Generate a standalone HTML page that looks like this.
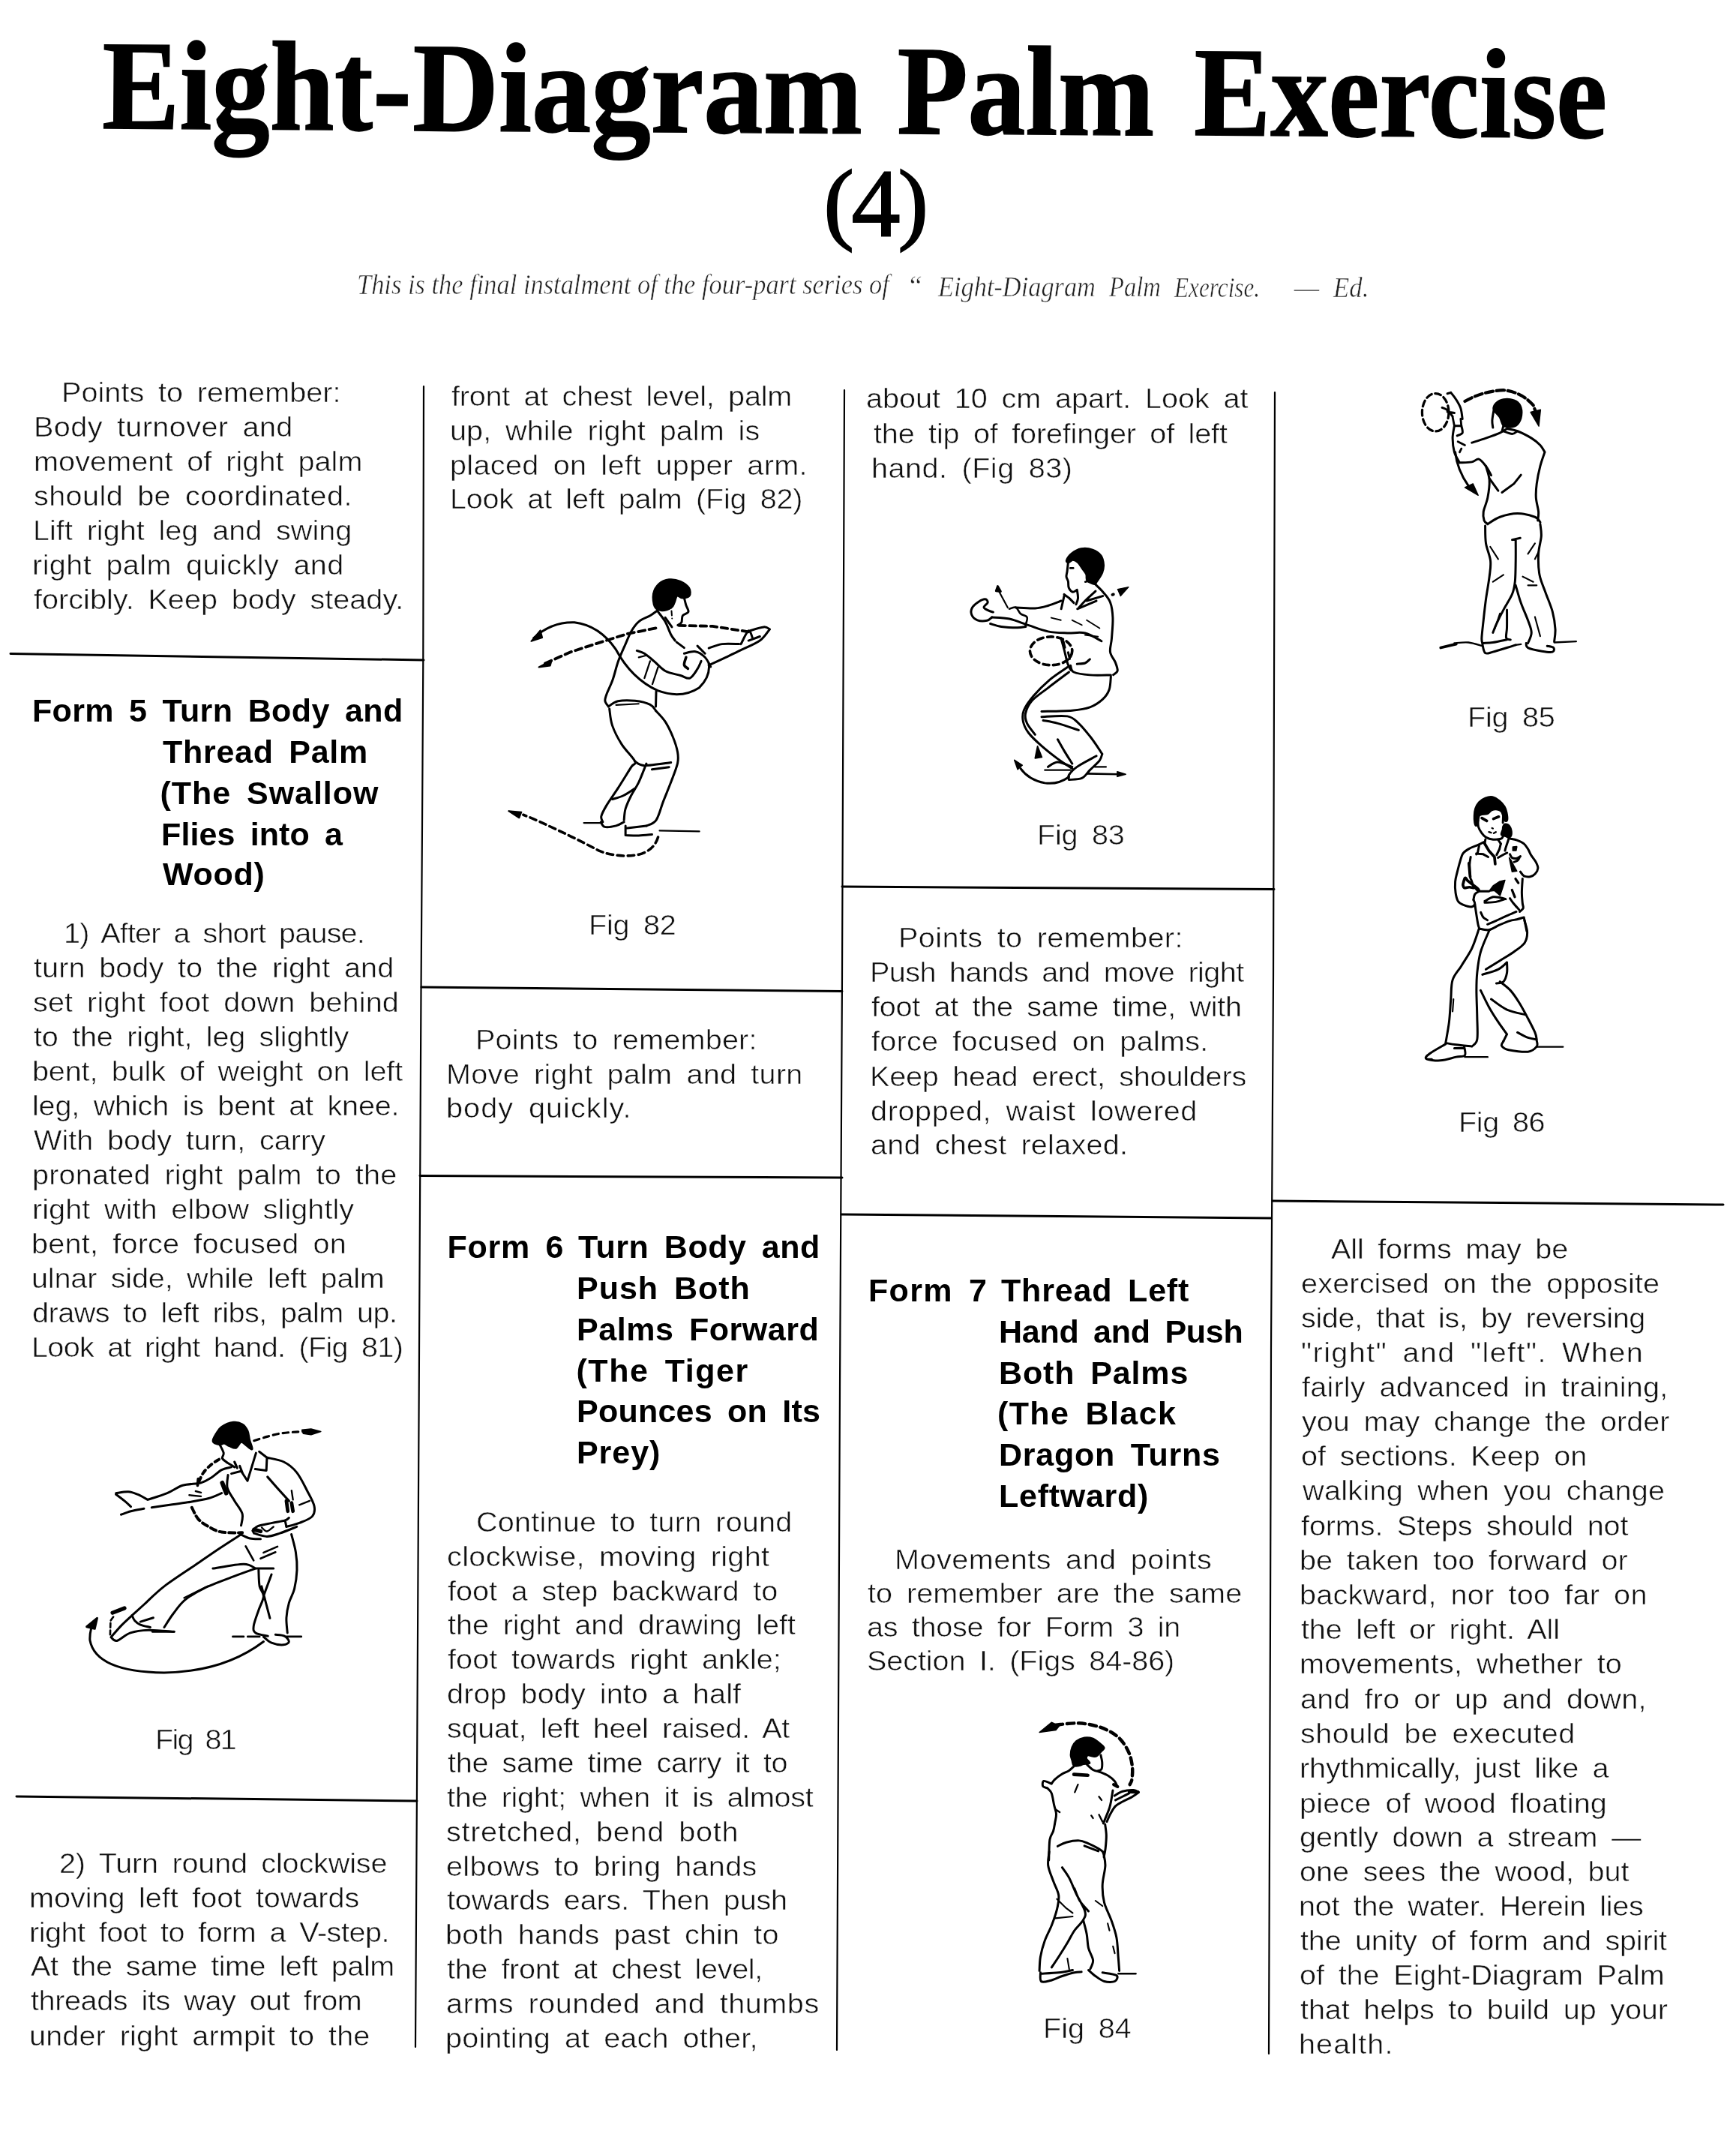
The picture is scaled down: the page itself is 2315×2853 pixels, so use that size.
<!DOCTYPE html>
<html lang="en"><head><meta charset="utf-8"><title>Eight-Diagram Palm Exercise (4)</title>
<style>
html,body{margin:0;padding:0;background:#fff;}
body{width:2315px;height:2853px;position:relative;overflow:hidden;color:#000;}
.pg{position:absolute;left:0;top:0;width:2315px;height:2853px;overflow:hidden;background:#fff;filter:grayscale(1);}
.b,.h,.t,.n,.s{position:absolute;white-space:nowrap;margin:0;padding:0;}
.b{font-family:"Liberation Sans",sans-serif;font-size:36px;line-height:46px;color:#111;word-spacing:7px;-webkit-text-stroke:0.55px #fff;transform-origin:0 0;transform:scaleX(1.10);}
.h{font-family:"Liberation Sans",sans-serif;font-weight:bold;font-size:43px;line-height:54px;color:#000;word-spacing:8px;}
.t{font-family:"Liberation Serif",serif;font-weight:bold;font-size:170px;line-height:180px;color:#000;transform-origin:0 0;-webkit-text-stroke:1.6px #000;}
.n{font-family:"Liberation Serif",serif;font-size:130px;line-height:150px;color:#000;-webkit-text-stroke:2px #000;}
.s{font-family:"Liberation Serif",serif;font-style:italic;font-size:38px;line-height:44px;color:#222;transform-origin:0 0;-webkit-text-stroke:0.6px #fff;}
svg{position:absolute;left:0;top:0;}
</style></head><body><div class="pg">
<svg width="2315" height="2853" viewBox="0 0 2315 2853" fill="none" stroke="#000" stroke-linecap="round" stroke-linejoin="round">
<line x1="14" y1="871.5" x2="565" y2="880" stroke-width="3"/>
<line x1="22" y1="2395" x2="556" y2="2401" stroke-width="3"/>
<line x1="562" y1="1316" x2="1123" y2="1321.5" stroke-width="3"/>
<line x1="560" y1="1567.5" x2="1123" y2="1570" stroke-width="3"/>
<line x1="1123" y1="1182" x2="1699" y2="1185.5" stroke-width="3"/>
<line x1="1122" y1="1619" x2="1695" y2="1624" stroke-width="3"/>
<line x1="1697" y1="1601" x2="2298" y2="1606" stroke-width="3"/>
<polyline points="565,515 564.3,880 563,1100 561.5,1320 559,1800 556,2380 554,2729" stroke-width="2.2"/>
<polyline points="1126,520 1123,1300 1120,1850 1116,2733" stroke-width="2.2"/>
<polyline points="1700,523 1698,1300 1695,1800 1694,2150 1692,2738" stroke-width="2.2"/>
<g transform="translate(60,1860) scale(0.26497)" stroke-width="11.32">
<path d="M846,232 C843.3,222.8 855.8,205.0 863,193 C870.2,181.0 874.8,169.3 889,160 C903.2,150.7 930.7,139.2 948,137 C965.3,134.8 981.2,139.8 993,147 C1004.8,154.2 1013.0,166.8 1019,180 C1025.0,193.2 1025.2,210.8 1029,226 C1032.8,241.2 1044.7,266.7 1042,271 C1039.3,275.3 1022.2,258.0 1013,252 C1003.8,246.0 995.7,232.8 987,235 C978.3,237.2 970.8,261.7 961,265 C951.2,268.3 937.8,258.8 928,255 C918.2,251.2 910.2,243.2 902,242 C893.8,240.8 888.3,249.7 879,248 C869.7,246.3 848.7,241.2 846,232Z" fill="#000"/>
<path d="M879,248 C882.3,255.2 896.8,279.5 899,291 C901.2,302.5 889.8,309.5 892,317 C894.2,324.5 906.0,331.2 912,336 C918.0,340.8 921.0,341.7 928,346 C935.0,350.3 949.7,359.3 954,362 M980,356 L993,389"/>
<path d="M954,336 L967,366" stroke-width="12"/>
<path d="M1062,291 L1019,431 L987,382 L938,395 M1078,284 L1117,314 L1114,379 L1058,372"/>
<path d="M1117,314 C1131.2,317.7 1177.0,323.5 1202,336 C1227.0,348.5 1247.5,365.0 1267,389 C1286.5,413.0 1304.3,451.8 1319,480 C1333.7,508.2 1350.7,536.3 1355,558 C1359.3,579.7 1357.5,595.8 1345,610 C1332.5,624.2 1301.7,634.3 1280,643 C1258.3,651.7 1225.8,658.8 1215,662"/>
<path d="M1120,411 C1128.2,420.3 1151.0,446.8 1169,467 C1187.0,487.2 1218.2,521.2 1228,532" stroke-width="12"/>
<path d="M1215,532 L1222,584 M1241,542 L1248,584" stroke-width="18"/>
<path d="M1241,480 L1248,526 M1280,552 L1332,532" stroke-width="9"/>
<path d="M1045,682 C1049.3,678.2 1054.7,665.5 1071,659 C1087.3,652.5 1120.2,647.8 1143,643 C1165.8,638.2 1193.8,634.3 1208,630 C1222.2,625.7 1224.7,619.2 1228,617 M1052,695 C1062.8,697.7 1095.3,711.0 1117,711 C1138.7,711.0 1157.0,703.2 1182,695 C1207.0,686.8 1252.8,667.5 1267,662 M1045,682 L1052,695 M1208,630 L1215,662"/>
<path d="M1052,676 L1085,685" stroke-width="20"/>
<path d="M1091,666 C1095.3,669.2 1107.2,685.7 1117,685 C1126.8,684.3 1144.5,665.8 1150,662" stroke-width="9"/>
<path d="M921,402 C920.5,412.8 912.5,445.3 918,467 C923.5,488.7 941.5,510.3 954,532 C966.5,553.7 987.5,576.3 993,597 C998.5,617.7 988.0,646.2 987,656"/>
<path d="M892,441 L912,493" stroke-width="22"/>
<path d="M938,362 C929.8,364.3 905.8,367.2 889,376 C872.2,384.8 854.3,404.2 837,415 C819.7,425.8 809.0,434.5 785,441 C761.0,447.5 721.3,445.3 693,454 C664.7,462.7 644.3,481.0 615,493 C585.7,505.0 533.3,520.5 517,526 M517,526 C508.3,521.5 481.3,505.7 465,499 C448.7,492.3 437.0,487.0 419,486 C401.0,485.0 367.3,491.8 357,493 M357,499 C364.2,504.5 387.5,521.7 400,532 C412.5,542.3 426.7,556.2 432,561 M383,601 C391.2,598.2 412.8,589.0 432,584 C451.2,579.0 487.0,573.2 498,571 M537,565 C552.2,562.8 597.7,556.3 628,552 C658.3,547.7 686.3,544.5 719,539 C751.7,533.5 795.7,526.7 824,519 C852.3,511.3 878.2,497.3 889,493"/>
<path d="M726,503 L785,509 M758,483 L785,490" stroke-width="9"/>
<path d="M771,421 L768,454" stroke-width="14"/>
<path d="M876,323 C869.5,327.3 850.0,338.0 837,349 C824.0,360.0 808.3,374.8 798,389 C787.7,403.2 778.8,426.5 775,434" stroke-width="15" stroke-dasharray="24 20"/>
<path d="M739,565 C744.3,574.7 756.8,606.8 771,623 C785.2,639.2 804.3,651.0 824,662 C843.7,673.0 860.8,684.0 889,689 C917.2,694.0 975.7,691.5 993,692" stroke-width="15" stroke-dasharray="30 18"/>
<path d="M1052,229 C1062.8,225.7 1095.3,215.0 1117,209 C1138.7,203.0 1160.2,196.8 1182,193 C1203.8,189.2 1228.3,187.7 1248,186 C1267.7,184.3 1291.3,183.5 1300,183" stroke-width="12" stroke-dasharray="28 22"/>
<path d="M1293,175 L1339,170 L1388,183 L1339,199 L1300,193Z" stroke-width="6" fill="#000"/>
<path d="M980,698 C988.7,701.8 1014.5,716.7 1032,721 C1049.5,725.3 1076.2,723.5 1085,724 M1240,700 C1243.7,715.0 1257.3,760.0 1262,790 C1266.7,820.0 1269.2,849.2 1268,880 C1266.8,910.8 1261.7,947.5 1255,975 C1248.3,1002.5 1234.7,1020.8 1228,1045 C1221.3,1069.2 1216.3,1094.8 1215,1120 C1213.7,1145.2 1219.2,1183.3 1220,1196"/>
<path d="M985,702 C967.5,713.3 917.5,745.0 880,770 C842.5,795.0 806.7,820.0 760,852 C713.3,884.0 643.3,928.7 600,962 C556.7,995.3 527.0,1027.7 500,1052 C473.0,1076.3 448.3,1098.7 438,1108 M438,1108 C440.3,1112.5 445.0,1127.2 452,1135 C459.0,1142.8 467.0,1149.5 480,1155 C493.0,1160.5 521.7,1165.8 530,1168"/>
<path d="M845,872 C870.8,868.3 964.2,850.0 1000,850 C1035.8,850.0 1050.0,868.3 1060,872 M1060,872 L1150,872 M1060,872 C1041.7,878.7 993.3,895.3 950,912 C906.7,928.7 840.8,952.3 800,972 C759.2,991.7 730.8,1008.7 705,1030 C679.2,1051.3 662.5,1077.0 645,1100 C627.5,1123.0 607.5,1156.7 600,1168"/>
<path d="M820,960 L700,1020" stroke-width="8"/>
<path d="M438,1108 C429.2,1116.3 402.7,1139.7 385,1158 C367.3,1176.3 340.8,1208.0 332,1218 M332,1218 C337.0,1221.0 345.7,1239.7 362,1236 C378.3,1232.3 403.7,1205.0 430,1196 C456.3,1187.0 483.3,1183.0 520,1182 C556.7,1181.0 628.3,1188.7 650,1190 M480,1140 L545,1120"/>
<path d="M340,1095 L400,1072" stroke-width="20"/>
<path d="M328,1205 L330,1135 L348,1110" stroke-width="10" stroke-dasharray="22 14"/>
<path d="M1075,880 C1075.8,893.7 1075.8,940.0 1080,962 C1084.2,984.0 1100.8,992.0 1100,1012 C1099.2,1032.0 1083.3,1057.0 1075,1082 C1066.7,1107.0 1052.5,1143.0 1050,1162 C1047.5,1181.0 1048.0,1187.7 1060,1196 C1072.0,1204.3 1111.7,1209.3 1122,1212 M1090,962 L1132,1122 M1140,902 L1100,1010"/>
<path d="M1010,760 L1050,832 M1100,792 L1170,762 M1085,822 L1160,790" stroke-width="10"/>
<path d="M1100,1216 C1106.7,1221.0 1123.3,1239.3 1140,1246 C1156.7,1252.7 1185.3,1257.0 1200,1256 C1214.7,1255.0 1227.2,1247.3 1228,1240 C1228.8,1232.7 1216.3,1217.8 1205,1212 C1193.7,1206.2 1167.5,1206.2 1160,1205"/>
<path d="M540,1190 L650,1190 M945,1215 L1000,1215 M1020,1215 L1080,1215 M1215,1215 L1290,1215" stroke-width="10"/>
<path d="M1100,1240 Q900,1392 600,1396 Q255,1392 226,1232 Q224,1180 248,1140"/>
<path d="M210,1165 L262,1122 L250,1175 Z" fill="#000"/>
</g>
<g transform="translate(660,740) scale(0.25237)" stroke-width="11.89">
<path d="M845,272 C837.7,257.5 834.2,225.0 838,205 C841.8,185.0 854.3,164.5 868,152 C881.7,139.5 901.3,132.0 920,130 C938.7,128.0 962.5,132.5 980,140 C997.5,147.5 1017.2,162.5 1025,175 C1032.8,187.5 1032.8,206.5 1027,215 C1021.2,223.5 1000.8,226.0 990,226 C979.2,226.0 969.0,211.0 962,215 C955.0,219.0 953.0,239.8 948,250 C943.0,260.2 943.0,269.0 932,276 C921.0,283.0 896.5,292.7 882,292 C867.5,291.3 852.3,286.5 845,272Z" fill="#000"/>
<path d="M1000,226 C1001.7,232.5 1006.3,252.7 1010,265 C1013.7,277.3 1025.0,290.8 1022,300 C1019.0,309.2 998.0,310.8 992,320 C986.0,329.2 990.3,346.7 986,355 C981.7,363.3 969.3,367.5 966,370"/>
<path d="M930,255 L936,335" stroke-width="8" stroke-dasharray="24 16"/>
<path d="M860,292 C853.3,296.7 836.3,310.3 820,320 C803.7,329.7 778.3,336.7 762,350 C745.7,363.3 734.0,380.0 722,400 C710.0,420.0 701.7,443.3 690,470 C678.3,496.7 663.3,528.3 652,560 C640.7,591.7 632.0,631.7 622,660 C612.0,688.3 598.7,711.7 592,730 C585.3,748.3 580.7,758.3 582,770 C583.3,781.7 597.0,795.0 600,800"/>
<path d="M862,300 C868.3,308.7 888.7,332.0 900,352 C911.3,372.0 921.3,403.3 930,420 C938.7,436.7 948.3,446.7 952,452" stroke-width="12"/>
<path d="M900,330 L935,380"/>
<path d="M972,372 L1150,376 L1345,406" stroke-width="15" stroke-dasharray="34 22"/>
<path d="M850,386 L700,416 L560,460 L400,512 L262,574" stroke-width="15" stroke-dasharray="36 22"/>
<path d="M232,592 L300,556 L292,584 Z" stroke-width="8" fill="#000"/>
<path d="M205,438 Q300,352 420,356 Q552,372 640,500 Q722,652 860,716 Q985,762 1080,700 Q1140,640 1130,572"/>
<path d="M192,455 L240,398 L250,436 Z" stroke-width="8" fill="#000"/>
<path d="M1130,582 C1145.0,575.0 1191.7,553.3 1220,540 C1248.3,526.7 1270.0,516.7 1300,502 C1330.0,487.3 1374.7,470.3 1400,452 C1425.3,433.7 1443.3,402.0 1452,392 M1452,392 C1446.7,390.0 1438.7,378.3 1420,380 C1401.3,381.7 1353.3,398.3 1340,402 M1130,492 C1141.7,488.3 1173.3,473.7 1200,470 C1226.7,466.3 1275.0,470.0 1290,470 M1300,470 C1306.7,458.3 1329.7,405.0 1340,400 C1350.3,395.0 1358.3,433.3 1362,440 M1340,452 L1400,430"/>
<path d="M750,505 C756.7,507.5 775.0,510.8 790,520 C805.0,529.2 821.7,544.7 840,560 C858.3,575.3 876.7,599.3 900,612 C923.3,624.7 958.3,629.7 980,636 C1001.7,642.3 1015.0,655.7 1030,650 C1045.0,644.3 1060.0,617.0 1070,602 C1080.0,587.0 1086.7,567.0 1090,560 M1000,520 C1010.0,518.3 1041.7,506.7 1060,510 C1078.3,513.3 1096.7,526.7 1110,540 C1123.3,553.3 1135.0,581.7 1140,590"/>
<path d="M820,560 L790,650 M862,592 L832,682 M760,540 L800,530" stroke-width="9"/>
<path d="M1010,540 C1008.3,546.7 998.3,570.0 1000,580 C1001.7,590.0 1016.7,596.7 1020,600" stroke-width="14"/>
<path d="M960,460 L1000,490 M1070,480 L1110,520" stroke-width="12"/>
<path d="M600,800 C608.3,795.3 626.7,777.0 650,772 C673.3,767.0 711.7,767.0 740,770 C768.3,773.0 801.7,781.3 820,790 C838.3,798.7 845.0,816.7 850,822 M852,720 L850,800"/>
<path d="M640,792 L760,786" stroke-width="8"/>
<path d="M605,812 C607.5,826.7 609.2,868.7 620,900 C630.8,931.3 650.0,968.3 670,1000 C690.0,1031.7 731.7,1070.0 740,1090 C748.3,1110.0 735.0,1096.3 720,1120 C705.0,1143.7 671.7,1198.3 650,1232 C628.3,1265.7 604.7,1297.3 590,1322 C575.3,1346.7 565.3,1365.3 562,1380 C558.7,1394.7 568.7,1405.0 570,1410"/>
<path d="M850,822 C858.3,831.7 885.0,857.0 900,880 C915.0,903.0 929.2,933.3 940,960 C950.8,986.7 960.8,1016.7 965,1040 C969.2,1063.3 970.8,1073.3 965,1100 C959.2,1126.7 942.5,1166.7 930,1200 C917.5,1233.3 903.0,1266.7 890,1300 C877.0,1333.3 866.7,1378.3 852,1400 C837.3,1421.7 810.3,1425.0 802,1430"/>
<path d="M740,1090 C748.3,1093.7 758.3,1111.0 790,1112 C821.7,1113.0 906.7,1098.7 930,1096 M800,1102 C793.3,1118.3 773.3,1172.0 760,1200 C746.7,1228.0 731.7,1246.7 720,1270 C708.3,1293.3 696.3,1318.3 690,1340 C683.7,1361.7 683.3,1390.0 682,1400 M620,1290 C630.0,1286.7 660.0,1279.7 680,1270 C700.0,1260.3 730.0,1238.3 740,1232 M830,1132 L920,1120"/>
<path d="M560,1410 C563.3,1414.3 566.7,1432.7 580,1436 C593.3,1439.3 623.0,1434.3 640,1430 C657.0,1425.7 675.0,1413.3 682,1410 M690,1430 L690,1480 M690,1480 C701.7,1480.3 736.7,1482.7 760,1482 C783.3,1481.3 818.3,1477.0 830,1476 M700,1442 L800,1430"/>
<path d="M470,1415 L560,1415 M870,1456 L1080,1460" stroke-width="9"/>
<path d="M862,1490 Q842,1560 760,1582 Q650,1602 550,1562 Q400,1482 200,1392 L150,1372" stroke-width="14" stroke-dasharray="34 22"/>
<path d="M72,1352 L140,1358 L128,1388 Z" stroke-width="8" fill="#000"/>
</g>
<g transform="translate(1260,700) scale(0.21492)" stroke-width="13.96">
<path d="M756,219 C759.2,210.0 773.0,188.8 788,177 C803.0,165.2 824.7,151.8 846,148 C867.3,144.2 895.7,147.0 916,154 C936.3,161.0 956.7,174.5 968,190 C979.3,205.5 983.0,228.8 984,247 C985.0,265.2 981.0,281.8 974,299 C967.0,316.2 949.5,339.0 942,350 C934.5,361.0 938.7,366.0 929,365 C919.3,364.0 892.5,354.0 884,344 C875.5,334.0 883.3,317.8 878,305 C872.7,292.2 860.7,279.3 852,267 C843.3,254.7 835.7,239.7 826,231 C816.3,222.3 803.5,215.0 794,215 C784.5,215.0 775.3,230.3 769,231 C762.7,231.7 752.8,228.0 756,219Z" fill="#000"/>
<path d="M765,231 C764.0,240.2 760.8,271.2 759,286 C757.2,300.8 753.0,309.3 754,320 C755.0,330.7 762.5,338.5 765,350 C767.5,361.5 764.2,378.2 769,389 C773.8,399.8 785.5,412.8 794,415 C802.5,417.2 815.7,404.2 820,402 M820,402 C821.0,410.5 827.0,438.0 826,453 C825.0,468.0 816.0,485.5 814,492"/>
<path d="M778,267 L797,267 M871,352 L897,345" stroke-width="12"/>
<path d="M929,363 C937.7,371.7 964.8,395.7 981,415 C997.2,434.3 1015.8,452.2 1026,479 C1036.2,505.8 1040.5,538.5 1042,576 C1043.5,613.5 1037.7,668.7 1035,704 C1032.3,739.3 1022.2,763.3 1026,788 C1029.8,812.7 1050.5,832.7 1058,852 C1065.5,871.3 1073.2,891.2 1071,904 C1068.8,916.8 1049.3,924.8 1045,929"/>
<path d="M935,410 C924.2,420.0 887.2,453.0 870,470 C852.8,487.0 838.3,505.0 832,512 M880,470 L980,440"/>
<path d="M740,430 L770,452 L800,482 M742,432 L722,520" stroke-width="14"/>
<path d="M440,512 C460.0,512.7 526.7,518.0 560,516 C593.3,514.0 613.0,507.7 640,500 C667.0,492.3 708.3,475.0 722,470 M822,520 L940,470"/>
<path d="M292,572 C310.0,573.7 362.0,573.7 400,582 C438.0,590.3 480.0,609.0 520,622 C560.0,635.0 600.0,652.0 640,660 C680.0,668.0 721.7,668.3 760,670 C798.3,671.7 834.7,661.7 870,670 C905.3,678.3 955.0,711.7 972,720 M282,612 C293.3,615.0 322.0,626.0 350,630 C378.0,634.0 424.7,636.0 450,636 C475.3,636.0 493.3,631.0 502,630"/>
<path d="M660,575 L720,590 M790,590 L850,620 M880,590 L960,640 M870,682 L950,692" stroke-width="9"/>
<path d="M292,572 C287.0,575.3 277.0,589.0 262,592 C247.0,595.0 218.0,596.0 202,590 C186.0,584.0 171.3,569.0 166,556 C160.7,543.0 162.7,525.3 170,512 C177.3,498.7 196.7,484.7 210,476 C223.3,467.3 240.7,459.3 250,460 C259.3,460.7 267.3,471.7 266,480 C264.7,488.3 241.3,501.7 242,510 C242.7,518.3 260.3,525.0 270,530 C279.7,535.0 295.0,538.3 300,540"/>
<path d="M400,520 C406.7,518.3 428.3,505.0 440,510 C451.7,515.0 458.3,539.7 470,550 C481.7,560.3 505.0,560.0 510,572 C515.0,584.0 501.7,613.7 500,622" stroke-width="12"/>
<path d="M336,412 L390,512" stroke-width="10"/>
<path d="M318,408 L328,380 L346,412 Z" stroke-width="14" fill="#000"/>
<path d="M1040,432 L1046,430" stroke-width="18"/>
<path d="M1072,398 L1140,384 L1090,440 Z" stroke-width="6" fill="#000"/>
<ellipse cx="659" cy="781" rx="131" ry="88" stroke-width="17" stroke-dasharray="36 26"/>
<path d="M720,700 C723.3,712.0 733.0,745.3 740,772 C747.0,798.7 755.0,838.7 762,860 C769.0,881.3 778.7,893.3 782,900 M780,872 C783.3,878.7 780.0,902.3 800,912 C820.0,921.7 861.7,927.0 900,930 C938.3,933.0 1008.3,930.0 1030,930 M820,862 C828.3,861.0 856.7,861.0 870,856 C883.3,851.0 895.0,836.0 900,832"/>
<path d="M735,720 L745,760 M765,790 L775,830" stroke-width="14"/>
<path d="M760,882 C741.7,895.0 685.0,930.3 650,960 C615.0,989.7 576.7,1028.3 550,1060 C523.3,1091.7 500.7,1123.3 490,1150 C479.3,1176.7 481.0,1196.7 486,1220 C491.0,1243.3 501.0,1265.0 520,1290 C539.0,1315.0 570.0,1343.3 600,1370 C630.0,1396.7 668.3,1426.7 700,1450 C731.7,1473.3 775.0,1500.0 790,1510"/>
<path d="M770,912 C748.3,928.3 678.3,980.3 640,1010 C601.7,1039.7 563.3,1063.3 540,1090 C516.7,1116.7 505.0,1146.7 500,1170 C495.0,1193.3 500.0,1208.3 510,1230 C520.0,1251.7 551.7,1288.3 560,1300"/>
<path d="M1030,940 C1028.3,953.3 1028.3,996.7 1020,1020 C1011.7,1043.3 1000.0,1061.7 980,1080 C960.0,1098.3 931.7,1118.3 900,1130 C868.3,1141.7 840.0,1145.7 790,1150 C740.0,1154.3 631.7,1155.0 600,1156 M600,1190 C626.7,1189.3 721.7,1179.3 760,1186 C798.3,1192.7 806.7,1209.3 830,1230 C853.3,1250.7 880.0,1285.0 900,1310 C920.0,1335.0 937.3,1361.7 950,1380 C962.7,1398.3 971.7,1413.3 976,1420 M610,1212 C625.0,1215.0 663.3,1220.0 700,1230 C736.7,1240.0 808.3,1265.0 830,1272 M700,1330 C706.7,1341.7 725.0,1375.0 740,1400 C755.0,1425.0 781.7,1466.7 790,1480"/>
<path d="M976,1420 C973.3,1426.7 972.7,1443.3 960,1460 C947.3,1476.7 918.3,1501.7 900,1520 C881.7,1538.3 871.7,1560.0 850,1570 C828.3,1580.0 783.3,1578.3 770,1580 M770,1580 C770.0,1575.0 761.7,1563.3 770,1550 C778.3,1536.7 791.7,1519.7 820,1500 C848.3,1480.3 920.0,1443.3 940,1432 M640,1500 C650.0,1495.0 675.0,1470.0 700,1470 C725.0,1470.0 775.0,1495.0 790,1500"/>
<path d="M620,1520 L780,1520 M930,1500 L1000,1500" stroke-width="10"/>
<path d="M880,1542 L1080,1546" stroke-width="12"/>
<path d="M1070,1530 L1122,1546 L1070,1560 Z" stroke-width="8" fill="#000"/>
<path d="M770,1562 Q700,1612 620,1600 Q520,1580 470,1510"/>
<path d="M432,1458 L480,1490 L452,1515 Z" stroke-width="8" fill="#000"/>
<path d="M575,1372 L602,1440 L560,1446 Z" stroke-width="8" fill="#000"/>
</g>
<g transform="translate(1860,500) scale(0.23364)" stroke-width="12.84">
<path d="M565,195 C561.7,181.7 570.8,169.2 580,160 C589.2,150.8 603.3,142.5 620,140 C636.7,137.5 664.2,139.2 680,145 C695.8,150.8 708.0,160.8 715,175 C722.0,189.2 724.5,212.5 722,230 C719.5,247.5 710.3,269.0 700,280 C689.7,291.0 673.3,295.0 660,296 C646.7,297.0 630.0,295.3 620,286 C610.0,276.7 609.2,255.2 600,240 C590.8,224.8 568.3,208.3 565,195Z" fill="#000"/>
<path d="M565,200 C563.5,210.0 556.8,243.3 556,260 C555.2,276.7 559.3,293.3 560,300 M620,290 L612,320"/>
<path d="M440,386 C453.3,381.7 493.3,369.3 520,360 C546.7,350.7 580.0,339.0 600,330 C620.0,321.0 633.3,310.0 640,306 M640,306 C650.0,308.3 676.7,311.0 700,320 C723.3,329.0 758.3,346.7 780,360 C801.7,373.3 817.3,386.7 830,400 C842.7,413.3 851.7,433.3 856,440 M856,440 C851.7,453.3 837.7,490.0 830,520 C822.3,550.0 814.0,590.0 810,620 C806.0,650.0 804.3,673.3 806,700 C807.7,726.7 818.3,758.3 820,780 C821.7,801.7 816.7,821.7 816,830"/>
<path d="M620,320 C628.3,322.7 656.7,336.0 670,336 C683.3,336.0 695.0,322.7 700,320"/>
<path d="M340,290 C338.3,301.7 330.0,335.0 330,360 C330.0,385.0 333.3,416.7 340,440 C346.7,463.3 365.0,490.0 370,500 M370,500 C381.7,499.3 421.7,499.3 440,496 C458.3,492.7 466.7,476.0 480,480 C493.3,484.0 508.3,504.7 520,520 C531.7,535.3 545.0,563.3 550,572 M380,290 C381.0,296.7 390.0,320.7 386,330 C382.0,339.3 361.0,343.3 356,346"/>
<path d="M330,240 L340,290 M340,290 L380,290 M380,290 L376,250" stroke-width="12"/>
<path d="M320,100 C325.0,106.7 340.7,125.0 350,140 C359.3,155.0 370.0,171.7 376,190 C382.0,208.3 384.3,240.0 386,250 M300,106 L320,100 M270,186 C275.0,188.3 290.0,191.7 300,200 C310.0,208.3 325.0,230.0 330,236 M300,210 L340,216"/>
<path d="M360,380 L400,400 M380,420 L370,440" stroke-width="12"/>
<ellipse cx="232" cy="213" rx="76" ry="108" stroke-width="14" stroke-dasharray="34 20"/>
<path d="M400,150 Q500,92 620,86 Q722,96 790,172 L806,215" stroke-width="18" stroke-dasharray="44 20"/>
<path d="M775,212 L832,198 L822,292 Z" stroke-width="6" fill="#000"/>
<path d="M345,440 Q356,540 420,632"/>
<path d="M400,642 L446,620 L476,686 Z" stroke-width="6" fill="#000"/>
<path d="M520,520 C523.3,533.3 538.3,570.0 540,600 C541.7,630.0 535.7,670.0 530,700 C524.3,730.0 509.3,758.3 506,780 C502.7,801.7 506.0,818.3 510,830 C514.0,841.7 526.7,846.7 530,850"/>
<path d="M540,590 L590,660 M720,570 L680,620 L612,670"/>
<path d="M530,850 C541.7,843.3 571.7,820.0 600,810 C628.3,800.0 666.7,790.0 700,790 C733.3,790.0 778.3,801.7 800,810 C821.7,818.3 825.0,835.0 830,840"/>
<path d="M516,860 C516.7,876.7 515.0,926.7 520,960 C525.0,993.3 542.7,1028.3 546,1060 C549.3,1091.7 544.3,1113.3 540,1150 C535.7,1186.7 525.7,1238.3 520,1280 C514.3,1321.7 510.0,1363.3 506,1400 C502.0,1436.7 497.0,1478.3 496,1500 C495.0,1521.7 499.3,1525.0 500,1530"/>
<path d="M830,850 C831.0,861.7 837.7,891.7 836,920 C834.3,948.3 821.7,983.3 820,1020 C818.3,1056.7 819.3,1103.3 826,1140 C832.7,1176.7 847.7,1205.0 860,1240 C872.3,1275.0 890.7,1315.0 900,1350 C909.3,1385.0 914.3,1421.7 916,1450 C917.7,1478.3 911.0,1508.3 910,1520"/>
<path d="M690,940 C690.0,960.0 690.7,1020.0 690,1060 C689.3,1100.0 689.3,1148.3 686,1180 C682.7,1211.7 681.0,1223.3 670,1250 C659.0,1276.7 635.0,1311.7 620,1340 C605.0,1368.3 590.0,1398.3 580,1420 C570.0,1441.7 563.3,1461.7 560,1470 M670,940 L716,930 M690,1200 C695.0,1216.7 708.3,1266.7 720,1300 C731.7,1333.3 750.0,1371.7 760,1400 C770.0,1428.3 780.0,1448.3 780,1470 C780.0,1491.7 763.3,1520.0 760,1530 M640,1340 C640.0,1356.7 640.7,1413.3 640,1440 C639.3,1466.7 632.7,1488.3 636,1500 C639.3,1511.7 656.0,1508.3 660,1510"/>
<path d="M545,980 L590,1050 M800,960 L760,1020 M820,1010 L800,1050 M560,1180 L620,1140 M730,1150 L790,1180 M760,1200 L810,1200 M800,1380 L830,1490 M600,1360 L570,1450" stroke-width="9"/>
<path d="M500,1536 C502.7,1544.3 506.0,1578.7 516,1586 C526.0,1593.3 539.3,1585.0 560,1580 C580.7,1575.0 618.3,1562.7 640,1556 C661.7,1549.3 681.7,1542.7 690,1540 M506,1530 C515.0,1529.3 537.7,1529.3 560,1526 C582.3,1522.7 626.7,1512.7 640,1510 M750,1530 C751.7,1534.3 745.0,1548.3 760,1556 C775.0,1563.7 816.7,1572.0 840,1576 C863.3,1580.0 889.0,1583.3 900,1580 C911.0,1576.7 911.0,1561.7 906,1556 C901.0,1550.3 876.0,1547.7 870,1546"/>
<path d="M340,1530 C353.3,1529.3 393.3,1523.3 420,1526 C446.7,1528.7 486.7,1542.7 500,1546" stroke-width="10"/>
<path d="M262,1556 L350,1535" stroke-width="16"/>
<path d="M690,1540 L720,1536 M910,1526 L1035,1520" stroke-width="10"/>
</g>
<g transform="translate(1860,1040) scale(0.23364)" stroke-width="12.84">
<path d="M457,243 C455.3,233.7 454.3,216.3 455,203 C455.7,189.7 456.7,175.7 461,163 C465.3,150.3 471.7,137.0 481,127 C490.3,117.0 504.3,108.0 517,103 C529.7,98.0 543.7,94.3 557,97 C570.3,99.7 585.7,110.0 597,119 C608.3,128.0 618.3,140.3 625,151 C631.7,161.7 634.3,170.3 637,183 C639.7,195.7 642.3,219.0 641,227 C639.7,235.0 632.7,235.0 629,231 C625.3,227.0 622.3,211.7 619,203 C615.7,194.3 614.7,185.0 609,179 C603.3,173.0 594.3,168.3 585,167 C575.7,165.7 562.3,167.0 553,171 C543.7,175.0 538.3,187.0 529,191 C519.7,195.0 505.0,193.0 497,195 C489.0,197.0 484.7,197.0 481,203 C477.3,209.0 477.7,221.7 475,231 C472.3,240.3 468.0,257.0 465,259 C462.0,261.0 458.7,252.3 457,243Z" fill="#000"/>
<path d="M475,231 C475.3,237.0 473.3,255.0 477,267 C480.7,279.0 489.7,293.0 497,303 C504.3,313.0 510.3,321.0 521,327 C531.7,333.0 547.0,337.7 561,339 C575.0,340.3 595.7,337.7 605,335 C614.3,332.3 615.0,325.0 617,323 M619,203 L617,243"/>
<path d="M497,217 L525,233 M563,221 L593,209" stroke-width="16"/>
<path d="M537,296 L550,300 M565,303 L577,296 M555,274 L560,276" stroke-width="10"/>
<path d="M619,267 C621.0,262.0 623.3,253.7 629,253 C634.7,252.3 647.0,254.7 653,263 C659.0,271.3 665.0,292.3 665,303 C665.0,313.7 658.3,324.3 653,327 C647.7,329.7 640.3,321.7 633,319 C625.7,316.3 611.7,317.0 609,311 C606.3,305.0 615.3,290.3 617,283 C618.7,275.7 617.0,272.0 619,267Z" fill="#000"/>
<path d="M517,339 L513,363 M589,339 L605,363 M653,327 C651.0,333.0 644.3,353.0 641,363 C637.7,373.0 635.0,380.3 633,387 C631.0,393.7 629.7,400.3 629,403"/>
<path d="M513,351 C506.3,354.3 487.7,364.3 473,371 C458.3,377.7 439.0,383.0 425,391 C411.0,399.0 397.7,407.0 389,419 C380.3,431.0 378.3,445.7 373,463 C367.7,480.3 361.7,503.7 357,523 C352.3,542.3 346.7,559.0 345,579 C343.3,599.0 344.3,624.3 347,643 C349.7,661.7 354.0,679.7 361,691 C368.0,702.3 376.3,705.7 389,711 C401.7,716.3 425.7,723.7 437,723 C448.3,722.3 455.0,713.7 457,707 C459.0,700.3 450.3,687.0 449,683"/>
<path d="M433,439 C432.0,446.3 427.3,463.7 427,483 C426.7,502.3 429.3,540.3 431,555 C432.7,569.7 434.0,563.0 437,571 C440.0,579.0 443.0,593.0 449,603 C455.0,613.0 469.0,626.3 473,631"/>
<path d="M423,475 L430,551" stroke-width="16"/>
<path d="M481,375 L473,415 L465,423 M465,419 L505,423 L533,439 M605,363 L597,395 L581,427 M589,443 L617,427 L641,415"/>
<path d="M513,363 L537,403 L569,439 L573,479" stroke-width="16"/>
<path d="M661,335 C667.0,336.3 684.3,338.3 697,343 C709.7,347.7 726.3,354.3 737,363 C747.7,371.7 754.3,384.3 761,395 C767.7,405.7 769.7,415.0 777,427 C784.3,439.0 798.3,454.3 805,467 C811.7,479.7 817.7,491.7 817,503 C816.3,514.3 808.3,527.0 801,535 C793.7,543.0 783.7,549.0 773,551 C762.3,553.0 746.3,551.7 737,547 C727.7,542.3 720.3,527.0 717,523"/>
<path d="M657,423 C659.0,426.3 663.0,439.0 669,443 C675.0,447.0 685.0,448.3 693,447 C701.0,445.7 713.0,437.0 717,435 M681,467 C684.3,465.7 695.7,463.7 701,459 C706.3,454.3 711.0,442.3 713,439"/>
<path d="M675,383 L695,381 L691,401 L675,401Z" stroke-width="10" fill="#000"/>
<path d="M653,443 L661,483 L669,523 L697,519 L681,491 L665,459Z" stroke-width="6" fill="#000"/>
<path d="M729,563 C728.3,576.3 725.0,619.7 725,643 C725.0,666.3 727.7,688.3 729,703 C730.3,717.7 735.7,723.0 733,731 C730.3,739.0 716.3,747.7 713,751 M657,675 C660.3,679.7 668.3,692.3 677,703 C685.7,713.7 703.7,733.0 709,739"/>
<path d="M689,563 L705,587 M669,627 L685,667" stroke-width="14"/>
<path d="M389,595 C391.0,589.0 396.3,562.3 401,559 C405.7,555.7 411.0,569.7 417,575 C423.0,580.3 427.7,583.7 437,591 C446.3,598.3 465.7,612.3 473,619 C480.3,625.7 479.7,629.0 481,631 M389,599 C390.3,601.7 391.0,613.0 397,615 C403.0,617.0 416.3,611.0 425,611 C433.7,611.0 445.0,614.3 449,615" stroke-width="16"/>
<path d="M629,571 L597,579 L561,603 L537,635 L569,631 L601,659 L617,611Z" stroke-width="6" fill="#000"/>
<path d="M513,691 C521.0,687.0 546.3,670.3 561,667 C575.7,663.7 589.0,669.0 601,671 C613.0,673.0 627.7,677.7 633,679 M513,699 C523.7,698.3 557.7,698.3 577,695 C596.3,691.7 620.3,681.7 629,679 M481,635 L537,635 M449,683 C450.3,677.7 451.7,659.0 457,651 C462.3,643.0 477.0,637.7 481,635"/>
<path d="M457,707 C458.3,716.3 462.0,743.7 465,763 C468.0,782.3 472.3,809.7 475,823 C477.7,836.3 480.0,839.7 481,843 M491,755 C493.3,759.7 498.7,775.7 505,783 C511.3,790.3 525.0,796.3 529,799"/>
<path d="M529,823 C537.0,819.7 559.0,811.0 577,803 C595.0,795.0 617.7,783.7 637,775 C656.3,766.3 683.7,755.0 693,751 M481,847 C490.3,848.3 517.7,858.3 537,855 C556.3,851.7 577.0,835.7 597,827 C617.0,818.3 640.3,808.3 657,803 C673.7,797.7 683.7,798.3 697,795 C710.3,791.7 730.3,785.0 737,783 M737,783 C738.3,789.7 742.3,809.8 745,823 C747.7,836.2 751.7,855.5 753,862"/>
<path d="M480,850 C473.3,868.3 456.7,925.0 440,960 C423.3,995.0 398.3,1030.0 380,1060 C361.7,1090.0 340.0,1108.3 330,1140 C320.0,1171.7 323.3,1210.0 320,1250 C316.7,1290.0 315.0,1338.3 310,1380 C305.0,1421.7 293.3,1480.0 290,1500 M540,856 C531.7,876.7 501.7,939.3 490,980 C478.3,1020.7 474.0,1063.3 470,1100 C466.0,1136.7 466.0,1158.3 466,1200 C466.0,1241.7 469.3,1303.3 470,1350 C470.7,1396.7 475.0,1451.7 470,1480 C465.0,1508.3 445.0,1513.3 440,1520 M290,1500 C300.0,1501.7 325.0,1506.7 350,1510 C375.0,1513.3 425.0,1518.3 440,1520"/>
<path d="M480,850 L545,856 M335,1250 L330,1320" stroke-width="9"/>
<path d="M740,800 C742.7,811.7 756.0,848.3 756,870 C756.0,891.7 752.7,911.7 740,930 C727.3,948.3 703.3,963.3 680,980 C656.7,996.7 626.7,1013.3 600,1030 C573.3,1046.7 533.3,1071.7 520,1080 M500,1110 C515.0,1105.0 566.7,1091.7 590,1080 C613.3,1068.3 631.7,1046.7 640,1040 M640,1040 C640.0,1050.0 643.3,1081.7 640,1100 C636.7,1118.3 630.0,1140.0 620,1150 C610.0,1160.0 586.7,1158.3 580,1160 M600,1150 C610.0,1158.3 641.7,1180.0 660,1200 C678.3,1220.0 693.3,1243.3 710,1270 C726.7,1296.7 745.0,1331.7 760,1360 C775.0,1388.3 791.7,1420.0 800,1440 C808.3,1460.0 808.3,1473.3 810,1480 M490,1200 C498.3,1216.7 523.3,1270.0 540,1300 C556.7,1330.0 573.3,1355.0 590,1380 C606.7,1405.0 631.7,1438.3 640,1450 M550,1250 C565.0,1260.0 606.7,1295.0 640,1310 C673.3,1325.0 731.7,1335.0 750,1340 M640,1450 L620,1490 M700,1440 C710.0,1445.0 741.7,1463.3 760,1470 C778.3,1476.7 801.7,1478.3 810,1480"/>
<path d="M290,1506 C275.0,1515.0 218.3,1546.0 200,1560 C181.7,1574.0 170.0,1583.3 180,1590 C190.0,1596.7 231.7,1601.7 260,1600 C288.3,1598.3 326.7,1585.0 350,1580 C373.3,1575.0 392.3,1580.0 400,1570 C407.7,1560.0 396.7,1528.3 396,1520 M340,1530 L390,1530"/>
<path d="M620,1490 C618.3,1494.3 605.0,1507.7 610,1516 C615.0,1524.3 625.0,1534.3 650,1540 C675.0,1545.7 733.3,1553.3 760,1550 C786.7,1546.7 801.7,1530.7 810,1520 C818.3,1509.3 810.0,1491.7 810,1486"/>
<path d="M180,1592 L212,1592 M400,1580 L530,1580 M810,1522 L960,1522" stroke-width="10"/>
</g>
<g transform="translate(1330,2270) scale(0.23364)" stroke-width="12.84">
<path d="M420,299 C420.0,286.7 422.7,268.2 428,255 C433.3,241.8 440.5,229.0 452,220 C463.5,211.0 481.3,203.3 497,201 C512.7,198.7 532.2,201.2 546,206 C559.8,210.8 569.7,221.5 580,230 C590.3,238.5 606.3,248.8 608,257 C609.7,265.2 597.0,271.2 590,279 C583.0,286.8 574.2,299.8 566,304 C557.8,308.2 549.3,304.8 541,304 C532.7,303.2 521.7,296.5 516,299 C510.3,301.5 505.3,311.5 507,319 C508.7,326.5 528.5,339.0 526,344 C523.5,349.0 501.8,346.7 492,349 C482.2,351.3 476.2,356.5 467,358 C457.8,359.5 443.5,362.8 437,358 C430.5,353.2 430.8,338.8 428,329 C425.2,319.2 420.0,311.3 420,299Z" fill="#000"/>
<path d="M590,299 C591.3,305.7 597.2,325.8 598,339 C598.8,352.2 598.7,369.8 595,378 C591.3,386.2 579.2,386.3 576,388 M511,353 C516.8,358.0 534.5,376.3 546,383 C557.5,389.7 574.3,391.3 580,393"/>
<path d="M334,127 C356.2,125.3 424.3,114.7 467,117 C509.7,119.3 553.0,127.8 590,141 C627.0,154.2 662.7,173.0 689,196 C715.3,219.0 734.5,251.2 748,279 C761.5,306.8 766.7,336.7 770,363 C773.3,389.3 770.3,419.7 768,437 C765.7,454.3 758.0,462.0 756,467" stroke-width="19" stroke-dasharray="40 24"/>
<path d="M240,169 L309,112 L354,132 L334,156Z" stroke-width="6" fill="#000"/>
<path d="M437,363 C432.2,367.2 419.5,380.5 408,388 C396.5,395.5 381.2,399.8 368,408 C354.8,416.2 338.8,428.0 329,437 C319.2,446.0 312.3,457.8 309,462 M580,393 C589.2,397.2 620.2,409.0 635,418 C649.8,427.0 660.8,437.2 669,447 C677.2,456.8 681.5,472.0 684,477"/>
<path d="M437,409 L516,414" stroke-width="20"/>
<path d="M664,467 L686,479" stroke-width="18"/>
<path d="M309,462 C301.7,459.5 273.2,444.5 265,447 C256.8,449.5 256.7,470.3 260,477 C263.3,483.7 280.8,485.3 285,487 M285,487 C289.0,491.8 302.5,499.7 309,516 C315.5,532.3 319.5,565.2 324,585 C328.5,604.8 335.2,618.5 336,635 C336.8,651.5 331.8,667.7 329,684 C326.2,700.3 324.0,716.7 319,733 C314.0,749.3 303.2,754.3 299,782 C294.8,809.7 294.8,879.5 294,899"/>
<path d="M659,501 C657.5,510.2 653.2,539.5 650,556 C646.8,572.5 645.8,582.0 640,600 C634.2,618.0 620.8,649.2 615,664 C609.2,678.8 606.7,684.8 605,689 M669,531 C676.5,526.8 695.8,511.3 714,506 C732.2,500.7 762.5,498.2 778,499 C793.5,499.8 802.2,509.0 807,511 M807,511 C799.7,516.0 778.5,532.0 763,541 C747.5,550.0 728.8,556.8 714,565 C699.2,573.2 685.5,578.3 674,590 C662.5,601.7 653.2,620.2 645,635 C636.8,649.8 628.3,671.7 625,679 M674,556 C680.7,552.7 700.8,542.7 714,536 C727.2,529.3 746.5,519.3 753,516"/>
<path d="M753,509 L802,510" stroke-width="18"/>
<path d="M460,467 L442,511 M580,536 L595,556 M536,644 L546,659 M580,639 L600,679 M334,610 L356,625" stroke-width="10"/>
<path d="M615,694 C616.2,704.7 621.7,735.0 622,758 C622.3,781.0 619.3,811.5 617,832 C614.7,852.5 609.5,872.8 608,881 M600,850 L606,860 M344,819 C352.2,815.3 372.5,802.3 393,797 C413.5,791.7 446.5,786.2 467,787 C487.5,787.8 497.8,794.5 516,802 C534.2,809.5 560.3,823.0 576,832 C591.7,841.0 604.3,852.0 610,856 M497,817 L576,847"/>
<path d="M296,850 C295.0,863.3 286.0,901.7 290,930 C294.0,958.3 310.0,991.7 320,1020 C330.0,1048.3 346.7,1073.3 350,1100 C353.3,1126.7 346.7,1151.7 340,1180 C333.3,1208.3 321.7,1240.0 310,1270 C298.3,1300.0 280.7,1330.0 270,1360 C259.3,1390.0 251.0,1421.7 246,1450 C241.0,1478.3 241.0,1516.7 240,1530"/>
<path d="M606,860 C607.7,871.7 617.0,900.0 616,930 C615.0,960.0 601.0,1005.0 600,1040 C599.0,1075.0 601.7,1106.7 610,1140 C618.3,1173.3 638.3,1206.7 650,1240 C661.7,1273.3 673.3,1305.0 680,1340 C686.7,1375.0 687.3,1418.3 690,1450 C692.7,1481.7 695.0,1516.7 696,1530"/>
<path d="M370,940 C376.7,950.0 396.7,975.0 410,1000 C423.3,1025.0 435.0,1058.3 450,1090 C465.0,1121.7 493.3,1165.0 500,1190 C506.7,1215.0 500.0,1221.7 490,1240 C480.0,1258.3 455.0,1278.3 440,1300 C425.0,1321.7 415.0,1345.0 400,1370 C385.0,1395.0 365.0,1426.7 350,1450 C335.0,1473.3 316.7,1500.0 310,1510 M490,1240 C493.3,1253.3 505.0,1293.3 510,1320 C515.0,1346.7 514.0,1375.0 520,1400 C526.0,1425.0 544.3,1450.0 546,1470 C547.7,1490.0 532.7,1511.7 530,1520 M440,1060 C445.0,1071.7 456.7,1108.3 470,1130 C483.3,1151.7 511.7,1180.0 520,1190"/>
<path d="M340,1120 L390,1170 L430,1200 M330,1230 L430,1220 M560,1130 L600,1160 M630,1260 L640,1300 M660,1390 L670,1430 M400,1460 L410,1520" stroke-width="9"/>
<path d="M246,1540 C246.7,1548.3 241.0,1582.3 250,1590 C259.0,1597.7 280.0,1591.0 300,1586 C320.0,1581.0 346.7,1567.7 370,1560 C393.3,1552.3 421.7,1544.0 440,1540 C458.3,1536.0 473.3,1536.7 480,1536 M250,1546 C266.7,1545.0 320.0,1543.3 350,1540 C380.0,1536.7 416.7,1528.3 430,1526 M520,1526 C526.7,1531.7 545.0,1549.3 560,1560 C575.0,1570.7 591.7,1585.0 610,1590 C628.3,1595.0 658.3,1595.7 670,1590 C681.7,1584.3 691.7,1564.3 680,1556 C668.3,1547.7 613.3,1542.7 600,1540"/>
<path d="M690,1546 L790,1546" stroke-width="10"/>
</g>
</svg>
<div><span class="t" style="left:135.5px;top:23.9px;transform-origin:0 147.4px;transform:rotate(0.37deg) scaleX(0.9101)">Eight-</span><span class="t" style="left:550.1px;top:26.6px;transform-origin:0 147.4px;transform:rotate(0.37deg) scaleX(0.9342)">Diagram</span> <span class="t" style="left:1196.2px;top:30.8px;transform-origin:0 147.4px;transform:rotate(0.37deg) scaleX(0.9087)">Palm</span> <span class="t" style="left:1592.2px;top:33.3px;transform-origin:0 147.4px;transform:rotate(0.37deg) scaleX(0.9024)">Exercise</span></div>
<div><span class="n" style="left:1098.5px;top:194.2px;font-size:121px">(</span><span class="n" style="left:1135.6px;top:196.3px">4</span><span class="n" style="left:1197.6px;top:194.2px;font-size:121px">)</span></div>
<div><span class="s" style="left:476.2px;top:356.7px;transform:scaleX(0.906)">This is the final instalment of the four-part series of</span> <span class="s" style="left:1209.0px;top:359.2px;transform:scaleX(1.000)">“</span> <span class="s" style="left:1251.4px;top:359.7px;transform:scaleX(0.904)">Eight-Diagram</span> <span class="s" style="left:1479.4px;top:360.2px;transform:scaleX(0.859)">Palm</span> <span class="s" style="left:1565.8px;top:360.7px;transform:scaleX(0.822)">Exercise.</span> <span class="s" style="left:1725.5px;top:361.2px;transform:scaleX(1.000)">—</span> <span class="s" style="left:1777.9px;top:361.2px;transform:scaleX(0.916)">Ed.</span></div>
<div class="b" style="left:81.8px;top:500.5px;letter-spacing:0.03px">Points to remember:</div>
<div class="b" style="left:44.8px;top:546.5px;letter-spacing:0.36px">Body turnover and</div>
<div class="b" style="left:44.8px;top:592.5px;letter-spacing:0.07px">movement of right palm</div>
<div class="b" style="left:44.9px;top:638.5px;letter-spacing:0.36px">should be coordinated.</div>
<div class="b" style="left:43.8px;top:684.5px;letter-spacing:0.02px">Lift right leg and swing</div>
<div class="b" style="left:42.8px;top:730.5px;letter-spacing:0.40px">right palm quickly and</div>
<div class="b" style="left:45.0px;top:777.0px;letter-spacing:0.02px">forcibly. Keep body steady.</div>
<div class="b" style="left:85.3px;top:1222.0px;letter-spacing:-0.77px">1) After a short pause.</div>
<div class="b" style="left:45.0px;top:1268.0px;letter-spacing:0.05px">turn body to the right and</div>
<div class="b" style="left:43.9px;top:1314.0px;letter-spacing:0.13px">set right foot down behind</div>
<div class="b" style="left:45.0px;top:1360.0px;letter-spacing:-0.16px">to the right, leg slightly</div>
<div class="b" style="left:42.8px;top:1406.0px;letter-spacing:-0.15px">bent, bulk of weight on left</div>
<div class="b" style="left:42.8px;top:1452.0px;letter-spacing:-0.16px">leg, which is bent at knee.</div>
<div class="b" style="left:45.0px;top:1498.0px;letter-spacing:0.03px">With body turn, carry</div>
<div class="b" style="left:42.8px;top:1544.0px;letter-spacing:0.15px">pronated right palm to the</div>
<div class="b" style="left:42.8px;top:1589.5px;letter-spacing:0.04px">right with elbow slightly</div>
<div class="b" style="left:42.3px;top:1635.5px;letter-spacing:0.21px">bent, force focused on</div>
<div class="b" style="left:42.3px;top:1681.5px;letter-spacing:-0.16px">ulnar side, while left palm</div>
<div class="b" style="left:43.4px;top:1727.5px;letter-spacing:-0.46px">draws to left ribs, palm up.</div>
<div class="b" style="left:42.3px;top:1773.5px;letter-spacing:-0.61px">Look at right hand. (Fig 81)</div>
<div class="b" style="left:206.8px;top:2296.5px;letter-spacing:-1.62px">Fig 81</div>
<div class="b" style="left:78.9px;top:2461.5px;letter-spacing:-0.16px">2) Turn round clockwise</div>
<div class="b" style="left:38.8px;top:2507.5px;letter-spacing:-0.04px">moving left foot towards</div>
<div class="b" style="left:38.8px;top:2553.5px;letter-spacing:-0.46px">right foot to form a V-step.</div>
<div class="b" style="left:41.0px;top:2599.0px;letter-spacing:-0.40px">At the same time left palm</div>
<div class="b" style="left:41.0px;top:2645.0px;letter-spacing:-0.37px">threads its way out from</div>
<div class="b" style="left:38.8px;top:2691.5px;letter-spacing:0.12px">under right armpit to the</div>
<div class="b" style="left:602.0px;top:505.5px;letter-spacing:-0.21px">front at chest level, palm</div>
<div class="b" style="left:599.8px;top:551.5px;letter-spacing:0.07px">up, while right palm is</div>
<div class="b" style="left:599.8px;top:597.5px;letter-spacing:0.29px">placed on left upper arm.</div>
<div class="b" style="left:599.8px;top:642.5px;letter-spacing:-0.22px">Look at left palm (Fig 82)</div>
<div class="b" style="left:785.4px;top:1211.2px;letter-spacing:-0.19px">Fig 82</div>
<div class="b" style="left:633.8px;top:1364.0px;letter-spacing:0.18px">Points to remember:</div>
<div class="b" style="left:594.8px;top:1410.0px;letter-spacing:0.26px">Move right palm and turn</div>
<div class="b" style="left:594.8px;top:1455.0px;letter-spacing:0.97px">body quickly.</div>
<div class="b" style="left:634.9px;top:2006.5px;letter-spacing:0.18px">Continue to turn round</div>
<div class="b" style="left:595.9px;top:2052.5px;letter-spacing:0.31px">clockwise, moving right</div>
<div class="b" style="left:597.0px;top:2098.5px;letter-spacing:-0.00px">foot a step backward to</div>
<div class="b" style="left:597.0px;top:2144.0px;letter-spacing:-0.02px">the right and drawing left</div>
<div class="b" style="left:597.0px;top:2190.0px;letter-spacing:0.05px">foot towards right ankle;</div>
<div class="b" style="left:595.9px;top:2236.0px;letter-spacing:0.11px">drop body into a half</div>
<div class="b" style="left:595.9px;top:2282.0px;letter-spacing:-0.25px">squat, left heel raised. At</div>
<div class="b" style="left:597.0px;top:2328.0px;letter-spacing:-0.28px">the same time carry it to</div>
<div class="b" style="left:596.0px;top:2374.0px;letter-spacing:-0.25px">the right; when it is almost</div>
<div class="b" style="left:594.9px;top:2419.5px;letter-spacing:0.62px">stretched, bend both</div>
<div class="b" style="left:594.9px;top:2465.5px;letter-spacing:0.27px">elbows to bring hands</div>
<div class="b" style="left:596.0px;top:2511.0px;letter-spacing:-0.17px">towards ears. Then push</div>
<div class="b" style="left:593.8px;top:2556.5px;letter-spacing:0.17px">both hands past chin to</div>
<div class="b" style="left:596.0px;top:2602.5px;letter-spacing:-0.30px">the front at chest level,</div>
<div class="b" style="left:594.9px;top:2648.5px;letter-spacing:0.49px">arms rounded and thumbs</div>
<div class="b" style="left:593.8px;top:2694.5px;letter-spacing:0.15px">pointing at each other,</div>
<div class="b" style="left:1154.9px;top:509.0px;letter-spacing:0.00px">about 10 cm apart. Look at</div>
<div class="b" style="left:1164.5px;top:556.0px;letter-spacing:-0.15px">the tip of forefinger of left</div>
<div class="b" style="left:1162.3px;top:602.0px;letter-spacing:0.42px">hand. (Fig 83)</div>
<div class="b" style="left:1382.8px;top:1091.0px;letter-spacing:-0.17px">Fig 83</div>
<div class="b" style="left:1198.3px;top:1228.0px;letter-spacing:0.38px">Points to remember:</div>
<div class="b" style="left:1159.8px;top:1274.0px;letter-spacing:-0.52px">Push hands and move right</div>
<div class="b" style="left:1162.0px;top:1320.0px;letter-spacing:-0.23px">foot at the same time, with</div>
<div class="b" style="left:1162.0px;top:1366.0px;letter-spacing:0.24px">force focused on palms.</div>
<div class="b" style="left:1159.8px;top:1412.5px;letter-spacing:-0.19px">Keep head erect, shoulders</div>
<div class="b" style="left:1160.9px;top:1458.5px;letter-spacing:0.55px">dropped, waist lowered</div>
<div class="b" style="left:1160.9px;top:1504.0px;letter-spacing:0.21px">and chest relaxed.</div>
<div class="b" style="left:1193.3px;top:2056.5px;letter-spacing:0.43px">Movements and points</div>
<div class="b" style="left:1157.0px;top:2102.0px;letter-spacing:0.07px">to remember are the same</div>
<div class="b" style="left:1155.9px;top:2147.0px;letter-spacing:-0.23px">as those for Form 3 in</div>
<div class="b" style="left:1155.9px;top:2192.0px;letter-spacing:-0.10px">Section I. (Figs 84-86)</div>
<div class="b" style="left:1390.8px;top:2682.0px;letter-spacing:0.01px">Fig 84</div>
<div class="b" style="left:1957.1px;top:933.5px;letter-spacing:-0.17px">Fig 85</div>
<div class="b" style="left:1944.5px;top:1473.5px;letter-spacing:-0.39px">Fig 86</div>
<div class="b" style="left:1774.5px;top:1642.5px;letter-spacing:-0.11px">All forms may be</div>
<div class="b" style="left:1734.9px;top:1688.5px;letter-spacing:0.14px">exercised on the opposite</div>
<div class="b" style="left:1734.9px;top:1734.5px;letter-spacing:-0.33px">side, that is, by reversing</div>
<div class="b" style="left:1734.9px;top:1781.0px;letter-spacing:1.31px">"right" and "left". When</div>
<div class="b" style="left:1736.0px;top:1827.0px;letter-spacing:0.17px">fairly advanced in training,</div>
<div class="b" style="left:1736.0px;top:1873.0px;letter-spacing:-0.02px">you may change the order</div>
<div class="b" style="left:1734.9px;top:1919.0px;letter-spacing:-0.03px">of sections. Keep on</div>
<div class="b" style="left:1737.1px;top:1965.0px;letter-spacing:0.27px">walking when you change</div>
<div class="b" style="left:1735.0px;top:2011.5px;letter-spacing:-0.11px">forms. Steps should not</div>
<div class="b" style="left:1732.8px;top:2057.5px;letter-spacing:-0.01px">be taken too forward or</div>
<div class="b" style="left:1732.8px;top:2103.5px;letter-spacing:0.22px">backward, nor too far on</div>
<div class="b" style="left:1735.0px;top:2149.5px;letter-spacing:-0.12px">the left or right. All</div>
<div class="b" style="left:1732.8px;top:2196.0px;letter-spacing:0.13px">movements, whether to</div>
<div class="b" style="left:1733.9px;top:2242.5px;letter-spacing:0.19px">and fro or up and down,</div>
<div class="b" style="left:1733.9px;top:2288.5px;letter-spacing:0.40px">should be executed</div>
<div class="b" style="left:1732.8px;top:2334.5px;letter-spacing:-0.14px">rhythmically, just like a</div>
<div class="b" style="left:1732.8px;top:2381.5px;letter-spacing:0.16px">piece of wood floating</div>
<div class="b" style="left:1732.9px;top:2426.5px;letter-spacing:-0.10px">gently down a stream —</div>
<div class="b" style="left:1732.9px;top:2472.5px;letter-spacing:-0.03px">one sees the wood, but</div>
<div class="b" style="left:1731.8px;top:2518.5px;letter-spacing:-0.25px">not the water. Herein lies</div>
<div class="b" style="left:1734.0px;top:2564.5px;letter-spacing:-0.17px">the unity of form and spirit</div>
<div class="b" style="left:1732.9px;top:2610.5px;letter-spacing:-0.03px">of the Eight-Diagram Palm</div>
<div class="b" style="left:1734.0px;top:2657.0px;letter-spacing:-0.07px">that helps to build up your</div>
<div class="b" style="left:1731.8px;top:2703.0px;letter-spacing:1.00px">health.</div>
<div class="h" style="left:43.0px;top:920.1px;letter-spacing:0.31px">Form 5</div>
<div class="h" style="left:216.5px;top:920.1px;letter-spacing:0.38px">Turn Body and</div>
<div class="h" style="left:217.0px;top:975.1px;letter-spacing:0.71px">Thread Palm</div>
<div class="h" style="left:213.5px;top:1030.1px;letter-spacing:0.96px">(The Swallow</div>
<div class="h" style="left:215.0px;top:1084.6px;letter-spacing:0.12px">Flies into a</div>
<div class="h" style="left:217.0px;top:1138.1px;letter-spacing:0.72px">Wood)</div>
<div class="h" style="left:596.5px;top:1635.1px;letter-spacing:0.71px">Form 6</div>
<div class="h" style="left:771.0px;top:1635.1px;letter-spacing:0.51px">Turn Body and</div>
<div class="h" style="left:769.0px;top:1690.1px;letter-spacing:0.97px">Push Both</div>
<div class="h" style="left:769.0px;top:1745.1px;letter-spacing:0.54px">Palms Forward</div>
<div class="h" style="left:768.5px;top:1799.6px;letter-spacing:1.52px">(The Tiger</div>
<div class="h" style="left:769.0px;top:1853.6px;letter-spacing:0.24px">Pounces on Its</div>
<div class="h" style="left:769.0px;top:1909.1px;letter-spacing:0.94px">Prey)</div>
<div class="h" style="left:1158.0px;top:1692.6px;letter-spacing:1.31px">Form 7</div>
<div class="h" style="left:1335.0px;top:1692.6px;letter-spacing:0.82px">Thread Left</div>
<div class="h" style="left:1332.0px;top:1748.1px;letter-spacing:-0.27px">Hand and Push</div>
<div class="h" style="left:1332.0px;top:1802.6px;letter-spacing:0.87px">Both Palms</div>
<div class="h" style="left:1330.0px;top:1857.1px;letter-spacing:1.38px">(The Black</div>
<div class="h" style="left:1332.0px;top:1912.1px;letter-spacing:0.75px">Dragon Turns</div>
<div class="h" style="left:1332.0px;top:1966.6px;letter-spacing:0.73px">Leftward)</div>
</div></body></html>
